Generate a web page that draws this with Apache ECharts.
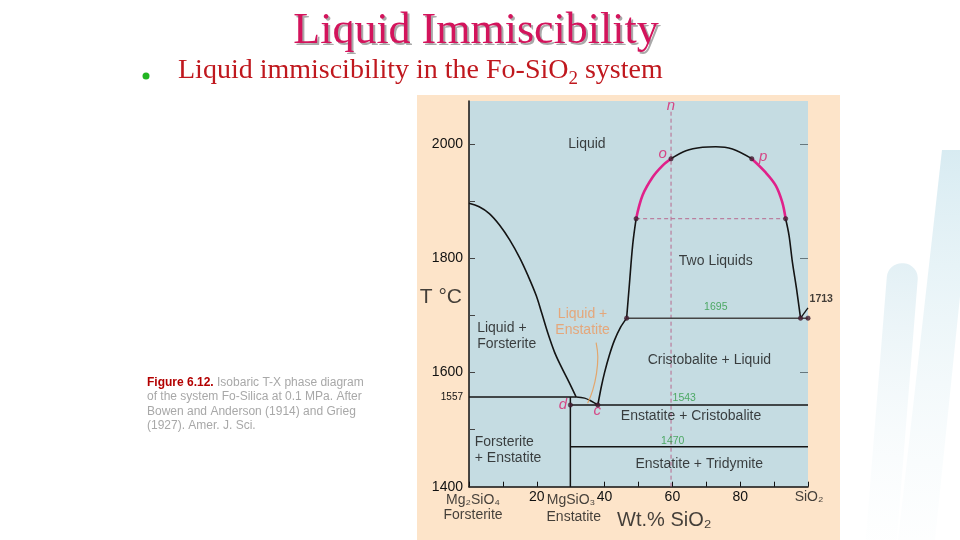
<!DOCTYPE html>
<html><head><meta charset="utf-8">
<script src="https://cdn.jsdelivr.net/npm/echarts@6/dist/echarts.min.js"></script>
<style>html,body{margin:0;padding:0;background:#fff}#c{width:960px;height:540px}</style>
</head><body><div id="c"></div>
<script>
// ---------- data (wt.% SiO2, T °C) ----------
const foLiquidus = [[0,1896],[3,1890],[6,1878],[9,1858],[12,1832],[15,1800],[17.5,1768],[19.8,1735],[21.5,1703],[23.3,1668],[25.2,1636],[27.2,1610],[29.5,1583],[31.6,1557]];
const enLiquidus = [[31.6,1557],[34.1,1555],[36.0,1550],[38.0,1543]];
const crLiquidus = [[38.0,1543],[39.0,1574],[40.0,1600],[41.4,1630],[42.9,1656],[44.8,1680],[46.5,1695]];
const solvusLowerLeft = [[46.5,1695],[47.3,1753],[48.3,1824],[49.3,1869]];
const solvusLeft = [[49.3,1869],[51.2,1910],[54.2,1942],[57.1,1962],[59.6,1974]];
const solvusTop = [[59.6,1974],[64.0,1988],[68.9,1994],[72.8,1995],[77.7,1991],[83.4,1974]];
const solvusRight = [[83.4,1974],[87.5,1950],[90.5,1927],[92.4,1898],[93.4,1869]];
const solvusLowerRight = [[93.4,1869],[94.4,1840],[95.4,1793],[96.6,1747],[97.8,1695]];
const cristobaliteMelt = [[97.8,1695],[100,1713]];
const isothermT    = [1557, 1543, 1470, 1695];
const isothermFrom = [0, 29.9, 29.9, 46.5];
const isothermTo   = [31.6, 100, 100, 100];
const enstatiteX = 29.9;
const tieLine = [[49.3,1869],[93.4,1869]];
const isopleth = [[59.6,1400],[59.6,2058]];
const pointer = [[37.5,1652],[38.0,1627],[37.6,1598],[36.5,1569],[35.0,1546]];
const invariantPoints = [[59.6,1974],[83.4,1974],[49.3,1869],[93.4,1869],[29.9,1543],[38.0,1543],[46.5,1695],[97.8,1695],[100,1695]];
const yTickLabels = [1400,1557,1600,1800,2000];
const yTicks = [1400,1500,1600,1700,1800,1900,2000];
const xTickLabels = [20,40,60,80];
const regionLabels = [['Liquid',34.8,2000],['Two Liquids',72.8,1795],['Cristobalite + Liquid',70.9,1622],['Enstatite + Cristobalite',65.5,1524],['Enstatite + Tridymite',67.9,1440]];
const leftLabels = [['Liquid +\nForsterite',2.4,1663],['Forsterite\n+ Enstatite',1.7,1464]];
const orangeLabels = [['Liquid +\nEnstatite',33.5,1688]];
const greenLabels = [['1695',72.8,1714],['1543',63.5,1555],['1470',60.1,1480]];
const pointLabels = [['n',59.6,2066],['o',57.1,1982],['p',86.8,1978],['d',27.7,1544],['c',37.8,1532]];
const meltLabels = [['1713',103.9,1728]];
const axisTexts = [['Mg₂SiO₄',1.2,1377],['Forsterite',1.2,1350],['MgSiO₃',30.1,1377],['Enstatite',30.9,1347],['SiO₂',100.3,1382]];
const axisNames = [['Wt.% SiO₂',57.6,1341],['T °C',-8.3,1732]];

const FONT = '"Liberation Sans", Arial, Helvetica, sans-serif';
const SERIF = '"Liberation Serif", "Times New Roman", serif';
const BLACK = '#141414', MAGENTA = '#e0218a', DASH = '#b8698f';

function curve(data, color, width, smooth) {
  return {type:'line', data, smooth: smooth === undefined ? 0.35 : smooth, showSymbol:false, silent:true,
    lineStyle:{color, width}, z:3};
}
function dashed(data) {
  return {type:'line', data, showSymbol:false, silent:true, lineStyle:{color:DASH, width:1, type:[4,3]}, z:2};
}
function labels(items, style) {
  return {type:'scatter', symbolSize:0, silent:true, clip:false, z:6,
    itemStyle:{color:'transparent'},
    data: items.map(([t,x,y]) => ({value:[x,y], label:{formatter:t}})),
    label: Object.assign({show:true, position:'inside', align:'center', verticalAlign:'middle', fontFamily:FONT, color:BLACK}, style)};
}

const series = [
  curve(foLiquidus, BLACK, 1.6),
  curve(enLiquidus, BLACK, 1.5),
  curve(crLiquidus, BLACK, 1.6, 0.2),
  curve(solvusLowerLeft, BLACK, 1.6),
  curve(solvusLeft, MAGENTA, 2.6),
  curve(solvusTop, BLACK, 1.5),
  curve(solvusRight, MAGENTA, 2.6),
  curve(solvusLowerRight, BLACK, 1.6),
  curve(cristobaliteMelt, BLACK, 1.3, false),
  curve([[enstatiteX,1400],[enstatiteX,1557]], BLACK, 1.5, false),
  dashed(tieLine),
  dashed(isopleth),
  curve(pointer, '#e3a66c', 1.2, 0.4),
  {type:'scatter', data:invariantPoints, symbolSize:4.5, silent:true, z:7,
   itemStyle:{color:'#4a2035', borderColor:'#2a1020', borderWidth:0.5}},
  labels(regionLabels, {fontSize:14, lineHeight:16}),
  labels(leftLabels, {fontSize:14, lineHeight:16, align:'left'}),
  labels(orangeLabels, {fontSize:14, lineHeight:16, color:'#ec9a62'}),
  labels(greenLabels, {fontSize:10.5, color:'#2e9b45'}),
  labels(pointLabels, {fontSize:15, color:'#d8206e', fontStyle:'italic'}),
  labels(meltLabels, {fontSize:10.5, fontWeight:'bold'}),
  labels(axisTexts, {fontSize:14}),
  labels(axisNames.slice(0,1), {fontSize:20}),
  labels(axisNames.slice(1), {fontSize:21})
];
isothermT.forEach((t,i) => {
  series.push(curve([[isothermFrom[i],t],[isothermTo[i],t]], t === 1695 ? '#454545' : BLACK, 1.5, false));
});

const chart = echarts.init(document.getElementById('c'), null, {renderer:'canvas'});
chart.setOption({
  animation:false,
  backgroundColor:'#ffffff',
  grid:{left:469, right:152, top:101, bottom:53.3, show:true, backgroundColor:'#c5dce2', borderWidth:0},
  xAxis:{type:'value', min:0, max:100, interval:10,
    axisLine:{show:true, lineStyle:{color:'#111', width:1.5}},
    axisTick:{show:true, inside:true, length:5, lineStyle:{color:'#111'}},
    axisLabel:{customValues:xTickLabels, fontSize:14, color:'#111', fontFamily:FONT, margin:3},
    splitLine:{show:false}},
  yAxis:[
    {type:'value', min:1400, max:2075, interval:100,
     axisLine:{show:true, lineStyle:{color:'#111', width:1.5}},
     axisTick:{show:true, inside:true, length:6, customValues:yTicks, lineStyle:{color:'#444'}},
     axisLabel:{customValues:yTickLabels, fontSize:14, color:'#111', fontFamily:FONT, margin:6,
       formatter: v => v === 1557 ? '{s|1557}' : String(v), rich:{s:{fontSize:10, fontFamily:FONT, color:'#111'}}},
     splitLine:{show:false}},
    {type:'value', min:1400, max:2075, position:'right',
     axisLine:{show:false},
     axisTick:{show:true, inside:true, length:8, customValues:[1600,1800,2000], lineStyle:{color:'#66777d'}},
     axisLabel:{show:false}, splitLine:{show:false}}
  ],
  series,
  graphic:[
    {type:'rect', z:-10, silent:true, shape:{x:417, y:95, width:423, height:445}, style:{fill:'#fde4c9'}},
    {type:'polygon', z:-5, silent:true, shape:{points:[[942,150],[975,150],[935,540],[898,540]]},
     style:{fill:new echarts.graphic.LinearGradient(0,0,0,1,[{offset:0,color:'rgba(190,222,233,0.6)'},{offset:0.5,color:'rgba(210,233,240,0.35)'},{offset:1,color:'rgba(235,245,248,0.1)'}])}},
    {type:'rect', z:-5, silent:true, x:888, y:262, rotation:-0.08, shape:{x:0, y:0, width:31, height:290, r:15},
     style:{fill:new echarts.graphic.LinearGradient(0,0,0,1,[{offset:0,color:'rgba(208,230,238,0.6)'},{offset:1,color:'rgba(240,248,250,0.05)'}])}},
    {type:'text', z:9, silent:true, style:{text:'Liquid Immiscibility', x:478, y:33, align:'center', verticalAlign:'middle',
      font:'44px ' + SERIF, fill:'#a9a9a9'}},
    {type:'text', z:10, silent:true, style:{text:'Liquid Immiscibility', x:476, y:31, align:'center', verticalAlign:'middle',
      font:'44px ' + SERIF, fill:'#d3145c'}},
    {type:'circle', z:10, silent:true, shape:{cx:146, cy:76, r:3.5}, style:{fill:'#22b522'}},
    {type:'text', z:10, silent:true, style:{x:178, y:71, verticalAlign:'middle',
      text:'{a|Liquid immiscibility in the Fo-SiO}{b|2}{a| system}',
      rich:{a:{fontSize:28, lineHeight:36, fontFamily:SERIF, fill:'#c0181e'},
            b:{fontSize:19, lineHeight:20, verticalAlign:'bottom', fontFamily:SERIF, fill:'#c0181e'}}}},
    {type:'text', z:10, silent:true, style:{x:147, y:375, verticalAlign:'top',
      text:'{r|Figure 6.12.} {g|Isobaric T-X phase diagram}\n{g|of the system Fo-Silica at 0.1 MPa. After}\n{g|Bowen and Anderson (1914) and Grieg}\n{g|(1927). Amer. J. Sci.}',
      rich:{r:{fontSize:12, lineHeight:14.5, fontWeight:'bold', fontFamily:FONT, fill:'#b30000'},
            g:{fontSize:12, lineHeight:14.5, fontFamily:FONT, fill:'#a8a8a8'}}}}
  ]
});
</script></body></html>
